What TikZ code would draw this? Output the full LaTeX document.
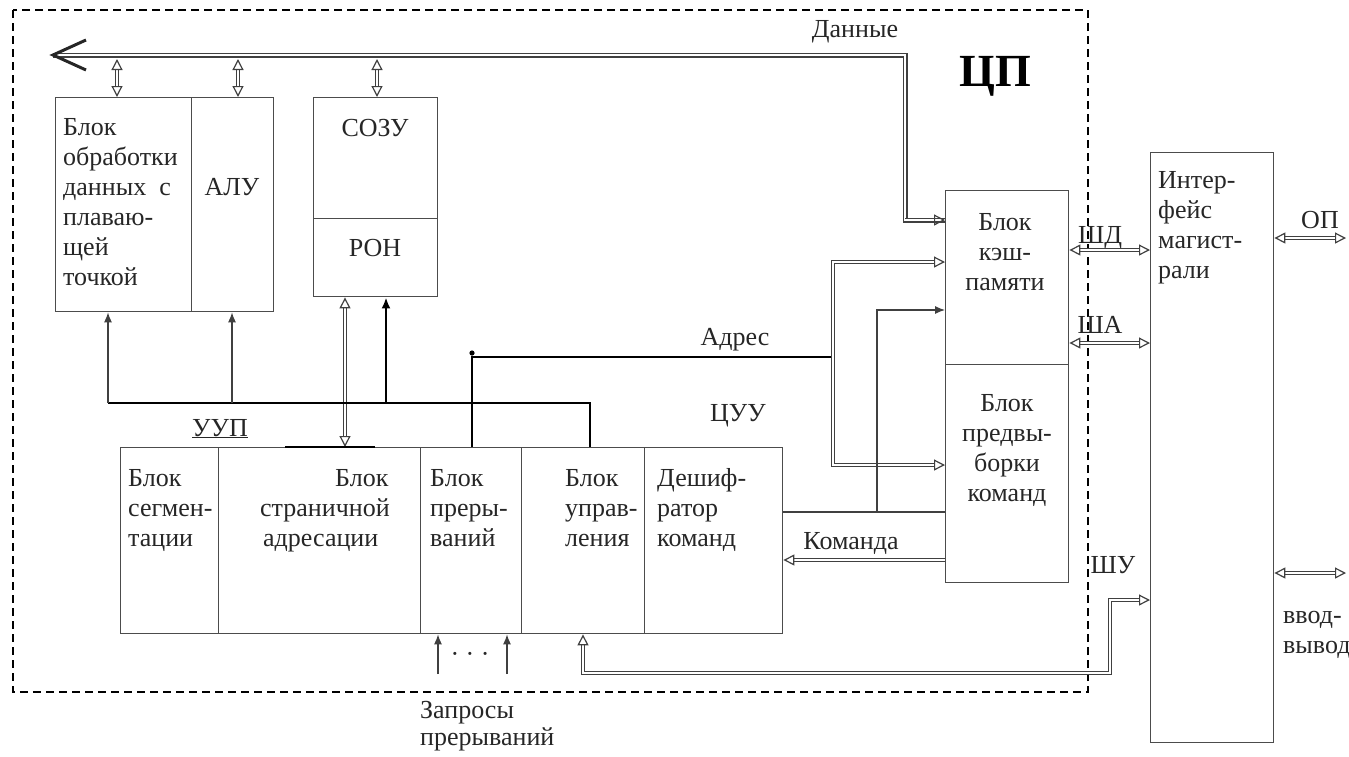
\documentclass[tikz,border=0pt]{standalone}
\usepackage{fontspec}
\setmainfont{Liberation Serif}
\usetikzlibrary{arrows.meta}
\tikzset{Bt/.tip={Triangle[open, length=11pt, width=11pt, line width=1.2pt]}}
\begin{document}
\begin{tikzpicture}[x=1pt,y=-1pt,
  box/.style={draw=black!70, line width=1.4pt, rectangle, anchor=north west, inner sep=0pt},
  txt/.style={font=\fontsize{26}{30}\selectfont, inner sep=0pt, align=left, anchor=north west, text=black!85},
  ctxt/.style={txt, align=center, anchor=north},
  lbl/.style={font=\fontsize{26}{30}\selectfont, inner sep=0pt, anchor=base, text=black!85},
  bus/.style={draw=black!75, double=white, double distance=2.4pt, line width=1.1pt},
  ctl/.style={draw=black, line width=2.4pt},
  thinl/.style={draw=black!75, line width=1.1pt},
  cpuframe/.style={draw=black, line width=2.3pt, dash pattern=on 8pt off 5pt},
  tipf/.style={-{Latex[length=10pt,width=8pt]}}
]
\useasboundingbox (0,0) rectangle (1349,756);

% CPU frame
\draw[cpuframe] (13,10) rectangle (1088,692);

% blocks
\node[box, minimum width=136pt, minimum height=214pt] (fpu) at (55,97) {};
\node[box, minimum width=82pt, minimum height=214pt] (alu) at (191,97) {};
\node[box, minimum width=124pt, minimum height=121pt] (sozu) at (313,97) {};
\node[box, minimum width=124pt, minimum height=78pt] (ron) at (313,218) {};
\node[box, minimum width=98pt, minimum height=186pt] (seg) at (120,447) {};
\node[box, minimum width=202pt, minimum height=186pt] (page) at (218,447) {};
\node[box, minimum width=101pt, minimum height=186pt] (intr) at (420,447) {};
\node[box, minimum width=123pt, minimum height=186pt] (ctrl) at (521,447) {};
\node[box, minimum width=138pt, minimum height=186pt] (dec) at (644,447) {};
\node[box, minimum width=123pt, minimum height=174pt] (cache) at (945,190) {};
\node[box, minimum width=123pt, minimum height=218pt] (pref) at (945,364) {};
\node[box, minimum width=123pt, minimum height=590pt] (iface) at (1150,152) {};

% block texts
\node[txt] (tfpu) at (63,114) {\strut Блок\\обработки\\данных\ \ с\\плаваю-\\щей\\точкой};
\node[lbl] (talu) at (232,195) {АЛУ};
\node[lbl] (tsozu) at (375,136) {СОЗУ};
\node[lbl] (tron) at (375,256) {РОН};
\node[txt] (tseg) at (128,465) {\strut Блок\\сегмен-\\тации};
\node[txt] (tpage) at (260,465) {\strut\hspace*{75pt}Блок\\страничной\\\hspace*{3pt}адресации};
\node[txt] (tintr) at (430,465) {\strut Блок\\преры-\\ваний};
\node[txt] (tctrl) at (565,465) {\strut Блок\\управ-\\ления};
\node[txt] (tdec) at (657,465) {\strut Дешиф-\\ратор\\команд};
\node[ctxt] (tcache) at (1005,209) {\strut Блок\\кэш-\\памяти};
\node[ctxt] (tpref) at (1007,390) {\strut Блок\\предвы-\\борки\\команд};
\node[txt] (tiface) at (1158,167) {\strut Интер-\\фейс\\магист-\\рали};

% labels
\node[lbl] (ldata) at (855,37) {Данные};
\node[lbl, font=\bfseries\fontsize{46}{50}\selectfont, text=black] (lcpu) at (995,86) {ЦП};
\node[lbl] (laddr) at (735,345) {Адрес};
\node[lbl] (lcuu) at (738,421) {ЦУУ};
\node[lbl] (lcmd) at (851,549) {Команда};
\node[lbl] (luup) at (220,436) {\underline{УУП}};
\node[lbl] (lshd) at (1100,243) {ШД};
\node[lbl] (lsha) at (1100,333) {ША};
\node[lbl] (lop) at (1320,228) {ОП};
\node[lbl] (lshu) at (1113,573) {ШУ};
\node[txt] (lio) at (1283,602) {\strut ввод-\\вывод};
\node[txt, font=\fontsize{26}{27}\selectfont] (lreq) at (420,699) {\strut Запросы\\прерываний};
\node[lbl] (ldots) at (470,662) {·\ ·\ ·};

% data bus
\coordinate (dbL) at (53,55);
\draw[bus, line width=1.3pt] (dbL) -- (905,55) -- (905,220) -- (cache.west |- 0,220);
\draw[bus, -{Bt}] (905,220) -- (cache.west |- 0,220);
\draw[draw=black!85, line width=3pt, line join=miter] (86,40) -- (dbL) -- (86,70);
\draw[bus, {Bt}-{Bt}] (117,59) -- (fpu.north -| 117,0);
\draw[bus, {Bt}-{Bt}] (238,59) -- (alu.north -| 238,0);
\draw[bus, {Bt}-{Bt}] (377,59) -- (sozu.north -| 377,0);

% register / page connection
\draw[bus, {Bt}-{Bt}] (ron.south -| 345,0) -- (page.north -| 345,0);
\draw[ctl] (page.north -| 285,0) -- (page.north -| 375,0);

% control bus
\coordinate (cb1) at (108,403);
\coordinate (cb2) at (232,403);
\coordinate (cb3) at (386,403);
\coordinate (cb4) at (472,403);
\coordinate (cb5) at (590,403);
\draw[ctl] (cb1) -- (cb5) -- (ctrl.north -| cb5);
\draw[thinl, tipf] (cb1) -- (fpu.south -| cb1);
\draw[thinl, tipf] (cb2) -- (alu.south -| cb2);
\draw[ctl, -{Latex[length=11pt,width=9pt]}] (cb3) -- (ron.south -| cb3);

% address
\coordinate (ad1) at (472,357);
\coordinate (ad2) at (833,357);
\draw[ctl, line width=2pt] (intr.north -| ad1) -- (ad1) -- (ad2);
\fill[black] (472,353) circle (2.6pt);
\draw[bus, -{Bt}] (ad2) -- (833,262) -- (cache.west |- 0,262);
\draw[bus, -{Bt}] (ad2) -- (833,465) -- (pref.west |- 0,465);

% decoder links
\coordinate (dk) at (877,512);
\draw[thinl] (dec.east |- dk) -- (pref.west |- dk);
\draw[thinl, tipf] (dk) -- (877,310) -- (cache.west |- 0,310);
\draw[bus, -{Bt}] (pref.west |- 0,560) -- (dec.east |- 0,560);

% external buses
\draw[bus, {Bt}-{Bt}] (cache.east |- 0,250) -- (iface.west |- 0,250);
\draw[bus, {Bt}-{Bt}] (cache.east |- 0,343) -- (iface.west |- 0,343);
\coordinate (opR) at (1346,238);
\coordinate (ioR) at (1346,573);
\draw[bus, {Bt}-{Bt}] (iface.east |- opR) -- (opR);
\draw[bus, {Bt}-{Bt}] (iface.east |- ioR) -- (ioR);

% SHU bus
\draw[bus, {Bt}-{Bt}] (ctrl.south -| 583,0) -- (583,673) -- (1110,673) -- (1110,600) -- (iface.west |- 0,600);

% interrupt requests
\draw[thinl, tipf] (438,674) -- (intr.south -| 438,0);
\draw[thinl, tipf] (507,674) -- (intr.south -| 507,0);
\end{tikzpicture}
\end{document}
